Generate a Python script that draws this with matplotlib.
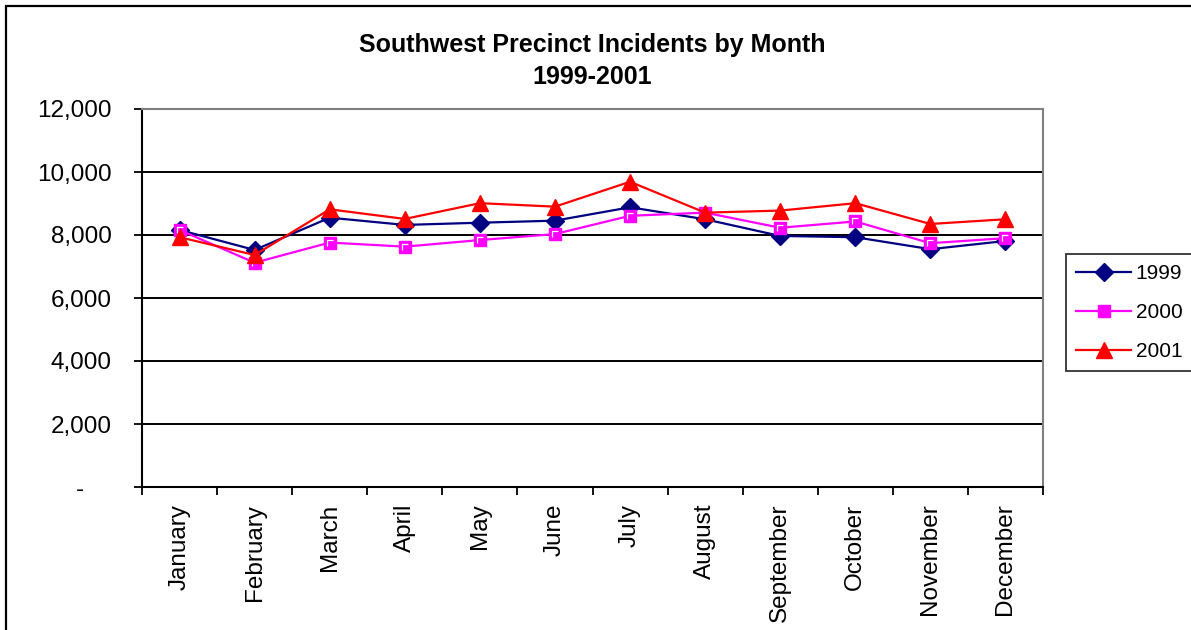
import matplotlib
matplotlib.use("Agg")
import matplotlib.pyplot as plt
from matplotlib.patches import Rectangle
from matplotlib.path import Path
from matplotlib.ticker import FixedLocator, FuncFormatter

plt.rcParams["font.family"] = ["Liberation Sans", "DejaVu Sans"]

months = ["January", "February", "March", "April", "May", "June",
          "July", "August", "September", "October", "November", "December"]

y1999 = [8160, 7525, 8550, 8320, 8390, 8455, 8880, 8500, 7970, 7930, 7550, 7810]
y2000 = [8160, 7120, 7760, 7630, 7840, 8030, 8610, 8710, 8230, 8430, 7740, 7900]
y2001 = [7930, 7365, 8815, 8510, 9010, 8900, 9690, 8710, 8775, 9010, 8350, 8500]

yticks = [0, 2000, 4000, 6000, 8000, 10000, 12000]

W, H = 1191, 630
fig = plt.figure(figsize=(W / 100, H / 100), dpi=100)
fig.patch.set_facecolor("white")

# outer chart frame (runs off the right and bottom edges)
fig.patches.append(Rectangle((6 / W, -0.1), 1.2, (H - 6) / H + 0.1,
                             transform=fig.transFigure, fill=False,
                             edgecolor="black", linewidth=1.6))

ax = fig.add_axes([142 / W, (H - 487) / H, (1043 - 142) / W, (487 - 109) / H])

# little white corner drawn inside the square markers
corner = Path([(-1, -1), (-1, 1), (1, 1)], [Path.MOVETO, Path.LINETO, Path.LINETO])

x = range(len(months))
ax.plot(x, y1999, color="#000080", lw=1.6, marker="D", ms=9,
        mfc="#000080", mec="#000080", label="1999", zorder=3)
ax.plot(x, y2000, color="#FF00FF", lw=1.6, marker="s", ms=8,
        mfc="#FF00FF", mec="#FF00FF", label="2000", zorder=4)
ax.plot(x, y2000, ls="none", marker=corner, ms=5, mfc="none",
        mec="white", mew=0.9, zorder=4.5)
ax.plot(x, y2001, color="#FF0000", lw=1.6, marker="^", ms=11,
        mfc="#FF0000", mec="#FF0000", label="2001", zorder=5)

ax.set_xlim(-0.5, len(months) - 0.5)
ax.set_ylim(0, 12000)

ax.set_yticks(yticks)
ax.yaxis.set_major_formatter(FuncFormatter(
    lambda v, p: "-    " if v == 0 else f"{int(v):,}"))
ax.tick_params(axis="y", direction="out", length=6, width=1.3,
               labelsize=17.5, pad=16, color="black")
ax.grid(axis="y", color="black", lw=1.4)
ax.set_axisbelow(True)

# month labels at category centres, tick marks on the boundaries
ax.set_xticks(list(x))
ax.set_xticklabels(months, rotation=90, va="top", ha="center")
ax.tick_params(axis="x", which="major", length=0, labelsize=17.5, pad=12)
ax.xaxis.set_minor_locator(FixedLocator([i - 0.5 for i in range(len(months) + 1)]))
ax.tick_params(axis="x", which="minor", direction="out", length=6, width=1.3)

for side in ("left", "bottom"):
    ax.spines[side].set_color("black")
    ax.spines[side].set_linewidth(1.5)
for side in ("top", "right"):
    ax.spines[side].set_color("#808080")
    ax.spines[side].set_linewidth(1.5)

fig.text((142 + 1043) / 2 / W, 1 - 61 / H,
         "Southwest Precinct Incidents by Month\n1999-2001",
         ha="center", va="center", fontsize=18, fontweight="bold",
         linespacing=1.4)

leg = ax.legend(loc="upper left", bbox_to_anchor=(1066 / W, 1 - 254 / H),
                bbox_transform=fig.transFigure, fontsize=15,
                frameon=True, fancybox=False, edgecolor="black",
                handlelength=2.6, handletextpad=0.25, labelspacing=0.95,
                borderpad=0.5, borderaxespad=0)
leg.get_frame().set_linewidth(1.3)

fig.savefig("out.png", dpi=100, facecolor="white")
